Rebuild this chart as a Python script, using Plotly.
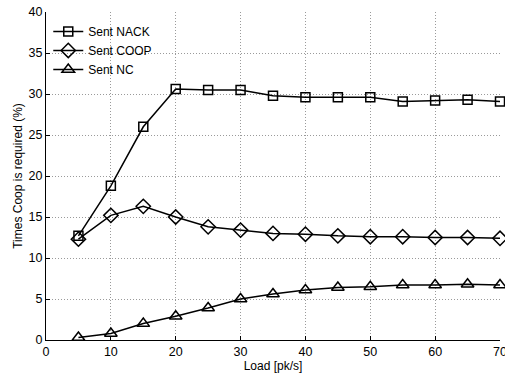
import plotly.graph_objects as go

load = [5, 10, 15, 20, 25, 30, 35, 40, 45, 50, 55, 60, 65, 70]
sent_nack = [12.7, 18.8, 26.0, 30.6, 30.5, 30.5, 29.8, 29.6, 29.6, 29.6, 29.1, 29.2, 29.3, 29.1]
sent_coop = [12.3, 15.2, 16.3, 15.0, 13.8, 13.4, 13.0, 12.9, 12.7, 12.6, 12.6, 12.5, 12.5, 12.4]
sent_nc = [0.3, 0.8, 2.0, 2.9, 3.9, 5.0, 5.6, 6.1, 6.4, 6.5, 6.7, 6.7, 6.8, 6.7]

x_ticks = [0, 10, 20, 30, 40, 50, 60, 70]
y_ticks = [0, 5, 10, 15, 20, 25, 30, 35, 40]

series = [
    ("Sent NACK", sent_nack, "square-open", 9),
    ("Sent COOP", sent_coop, "diamond-open", 11),
    ("Sent NC", sent_nc, "triangle-up-open", 11),
]

FONT = "Liberation Sans, Arial"

fig = go.Figure()
for name, values, symbol, size in series:
    fig.add_trace(go.Scatter(
        x=load, y=values, name=name, mode="lines+markers",
        line=dict(color="black", width=1.5),
        marker=dict(symbol=symbol, size=size, color="black",
                    line=dict(color="black", width=1.5)),
        cliponaxis=False,
    ))

axis_common = dict(
    showline=True, linecolor="black", linewidth=1,
    ticks="inside", ticklen=4, tickcolor="black",
    showgrid=True, gridcolor="#9a9a9a", griddash="1px,2px", gridwidth=1,
    zeroline=False, mirror=False, automargin=False,
    ticklabeloverflow="allow",
    tickfont=dict(family=FONT, size=12.5, color="black"),
    title_font=dict(family=FONT, size=12, color="black"),
)

fig.update_xaxes(range=[0, 70], tickvals=x_ticks, title_text="Load [pk/s]",
                 title_standoff=0, **axis_common)
fig.update_yaxes(range=[0, 40], tickvals=y_ticks,
                 title_text="Times Coop is required (%)", title_standoff=3,
                 **axis_common)

fig.update_layout(
    width=505, height=374,
    margin=dict(l=46, r=5, t=12, b=34),
    plot_bgcolor="white", paper_bgcolor="white",
    legend=dict(x=0.005, y=0.985, xanchor="left", yanchor="top",
                bgcolor="rgba(255,255,255,0)", borderwidth=0,
                itemwidth=30,
                font=dict(family=FONT, size=12, color="black"),
                tracegroupgap=0),
)

fig.write_html("out.html")
